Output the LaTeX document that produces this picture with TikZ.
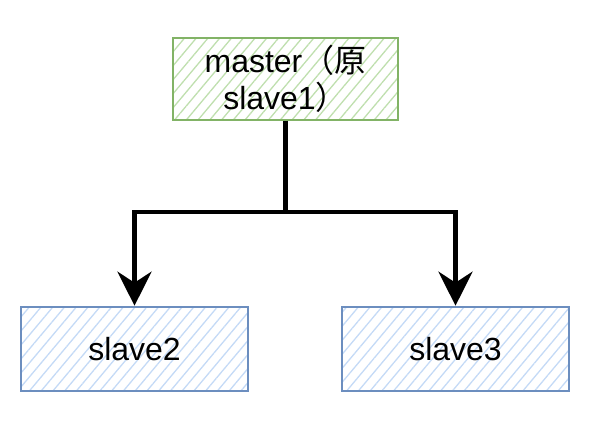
\documentclass[tikz,border=0pt]{standalone}
\usepackage{fontspec}
\setmainfont{Liberation Sans}
\newfontfamily\cjk{Noto Sans CJK SC}
\usetikzlibrary{arrows.meta, patterns.meta}

\definecolor{greenline}{HTML}{82B366}
\definecolor{greenhatch}{HTML}{BFDFAE}
\definecolor{blueline}{HTML}{6C8EBF}
\definecolor{bluehatch}{HTML}{C4DAF6}

\begin{document}
\begin{tikzpicture}[
  x=1pt,
  y=1pt,
  >=Stealth,
  font=\fontsize{32}{37}\selectfont,
  master/.style={draw=greenline, line width=2.6pt, align=center, inner sep=0pt,
    pattern={Lines[angle=50, distance=9pt, line width=1.3pt]}, pattern color=greenhatch,
    minimum width=225pt, minimum height=82pt},
  slave/.style={draw=blueline, line width=2.6pt, align=center, inner sep=0pt,
    pattern={Lines[angle=50, distance=9pt, line width=1.3pt]}, pattern color=bluehatch,
    minimum width=227pt, minimum height=84pt},
  arrow/.style={-{Stealth[length=34pt, width=34pt, inset=11pt]}, line width=4.5pt}
]
  \useasboundingbox (0,0) rectangle (596,-426);

  % the new master on top, the two remaining slaves below
  \node[master] at (285.5,-79)  (master) {master{\cjk（原}\\slave1{\cjk）}};
  \node[slave]  at (134.5,-349) (slave2) {slave2};
  \node[slave]  at (455.5,-349) (slave3) {slave3};

  \coordinate (split) at (285.5,-212);
  \draw[line width=4.5pt] (master.south) -- (split);
  \draw[arrow] (split) -| (slave2.north);
  \draw[arrow] (split) -| (slave3.north);

\end{tikzpicture}
\end{document}
